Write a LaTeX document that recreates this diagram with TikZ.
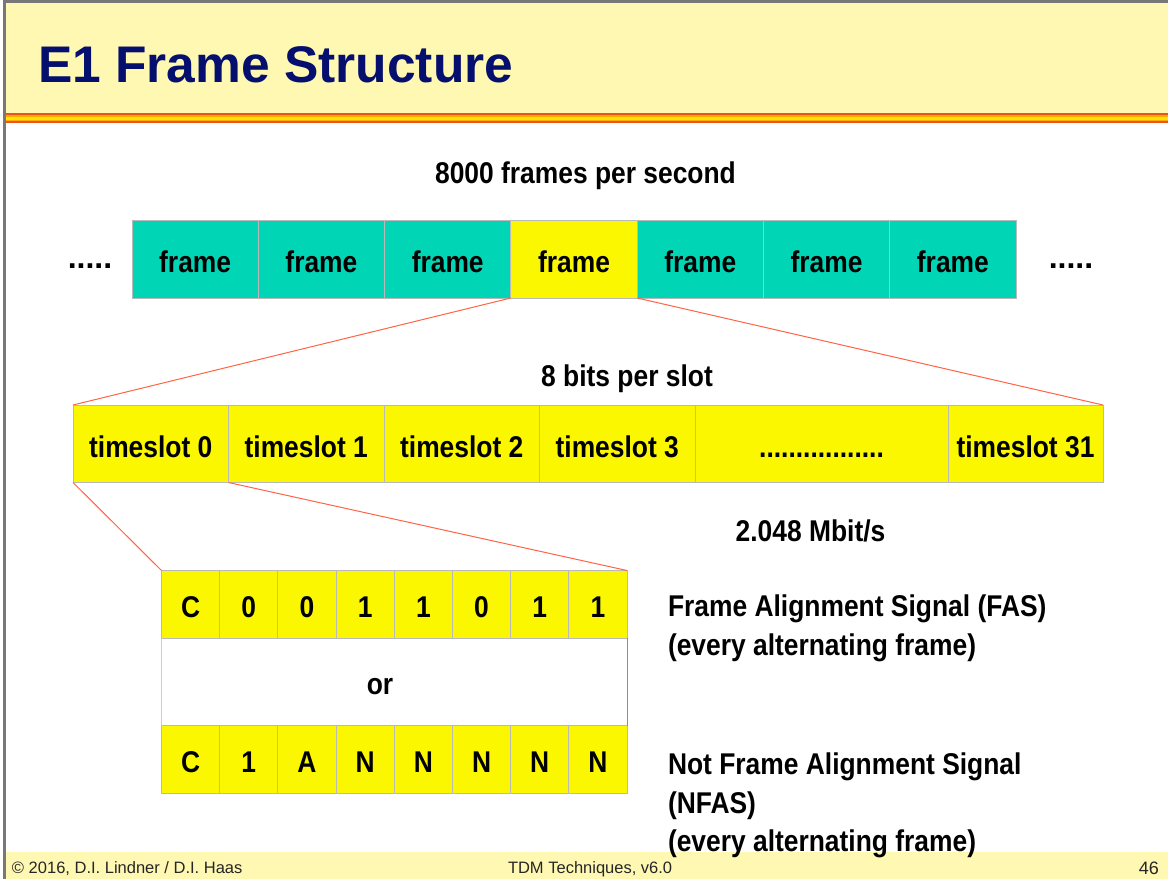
\documentclass[tikz,border=0pt]{standalone}
\usepackage{fontspec}
\setmainfont{Liberation Sans}
\newfontfamily\nar[FakeStretch=0.88]{Liberation Sans}
\definecolor{tealc}{RGB}{0,214,182}
\definecolor{yel}{RGB}{250,247,0}
\definecolor{pale}{RGB}{255,248,178}
\definecolor{navy}{RGB}{5,15,110}
\definecolor{conn}{RGB}{255,100,70}
\definecolor{cellb}{RGB}{185,185,185}
\definecolor{bord}{RGB}{120,120,120}
\definecolor{strA}{RGB}{235,85,25}
\definecolor{strB}{RGB}{255,170,0}
\definecolor{strC}{RGB}{255,228,0}
\tikzset{
  cellbox/.style={draw=cellb, line width=1pt, inner sep=0pt, outer sep=0pt, anchor=north west,
    font=\nar\bfseries\fontsize{30}{36}\selectfont, text height=27pt, text depth=0pt},
  lbl/.style={inner sep=0pt, outer sep=0pt, font=\nar\bfseries\fontsize{30}{36}\selectfont},
  dotlbl/.style={inner sep=0pt, outer sep=0pt, font=\bfseries\fontsize{32}{36}\selectfont},
  foot/.style={inner sep=0pt, outer sep=0pt, font=\fontsize{16.5}{19}\selectfont, text=black!85},
  connline/.style={draw=conn, line width=1pt}
}
\begin{document}
\begin{tikzpicture}[x=1pt,y=-1pt]
\useasboundingbox (0,0) rectangle (1168,879);
\fill[white] (0,0) rectangle (1168,879);
% title bar
\fill[pale] (6,3) rectangle (1168,113);
\fill[strA] (6,113) rectangle (1168,115);
\fill[strB] (6,115) rectangle (1168,116.5);
\fill[strC] (6,116.5) rectangle (1168,119.5);
\fill[strB] (6,119.5) rectangle (1168,121);
\fill[strA] (6,121) rectangle (1168,123);
% footer band
\fill[pale] (6,852) rectangle (1168,879);
% border
\fill[bord] (2.5,0) rectangle (6,879);
\fill[bord] (2.5,0) rectangle (1168,3);
% title
\node[anchor=base west, inner sep=0pt, text=navy, font=\bfseries\fontsize{51.5}{60}\selectfont] (title) at (38,82) {E1 Frame Structure};
% frames
\node[lbl, anchor=base] (fps) at (585.5,183) {8000 frames per second};
\node[dotlbl, anchor=base] (dl) at (90,268) {.....};
\node[dotlbl, anchor=base] (dr) at (1071,268) {.....};
\foreach \i/\c in {1/tealc,2/tealc,3/tealc,4/yel,5/tealc,6/tealc,7/tealc}{
  \node[cellbox, fill=\c, minimum width=126.29pt, minimum height=78pt] (f\i) at ({132+(\i-1)*126.29},220) {frame};
}
% timeslots
\node[lbl, anchor=base] (bps) at (627,386) {8 bits per slot};
\node[cellbox, fill=yel, minimum width=155.5pt, minimum height=77.5pt] (t0) at (73,405) {timeslot 0};
\node[cellbox, fill=yel, minimum width=155.5pt, minimum height=77.5pt] (t1) at (228.5,405) {timeslot 1};
\node[cellbox, fill=yel, minimum width=155.5pt, minimum height=77.5pt] (t2) at (384,405) {timeslot 2};
\node[cellbox, fill=yel, minimum width=155.5pt, minimum height=77.5pt] (t3) at (539.5,405) {timeslot 3};
\node[cellbox, fill=yel, minimum width=253pt, minimum height=77.5pt] (tdots) at (695,405) {.................};
\node[cellbox, fill=yel, minimum width=155pt, minimum height=77.5pt] (t31) at (948,405) {timeslot 31};
\node[lbl, anchor=base] (rate) at (810.5,541) {2.048 Mbit/s};
% bits
\foreach \i/\t in {1/C,2/0,3/0,4/1,5/1,6/0,7/1,8/1}{
  \node[cellbox, fill=yel, minimum width=58.19pt, minimum height=67.5pt] (a\i) at ({161.5+(\i-1)*58.19},570.5) {\t};
}
\foreach \i/\t in {1/C,2/1,3/A,4/N,5/N,6/N,7/N,8/N}{
  \node[cellbox, fill=yel, minimum width=58.19pt, minimum height=67.5pt] (b\i) at ({161.5+(\i-1)*58.19},725.5) {\t};
}
\node[lbl, anchor=base] (or) at (380,694.5) {or};
% connectors
\draw[connline] (f4.south west) -- (t0.north west);
\draw[connline] (f4.south east) -- (t31.north east);
\draw[connline] (t0.south west) -- (a1.north west);
\draw[connline] (t1.south west) -- (a8.north east);
\draw[draw=conn!45, line width=1pt] (a1.south west) -- (b1.north west);
\draw[connline] (a8.south east) -- (b8.north east);
% right texts
\node[lbl, anchor=base west] (fas1) at (668,616.5) {Frame Alignment Signal (FAS)};
\node[lbl, anchor=base west] (fas2) at (668,655.5) {(every alternating frame)};
\node[lbl, anchor=base west] (nf1) at (668,774.5) {Not Frame Alignment Signal};
\node[lbl, anchor=base west] (nf2) at (668,813) {(NFAS)};
\node[lbl, anchor=base west] (nf3) at (668,851.5) {(every alternating frame)};
% footer
\node[foot, anchor=base west] (copy) at (12,873) {© 2016, D.I. Lindner / D.I. Haas};
\node[foot, anchor=base west] (ver) at (508,873) {TDM Techniques, v6.0};
\node[foot, anchor=base east, font=\fontsize{18}{20}\selectfont] (pg) at (1159,874) {46};
\end{tikzpicture}
\end{document}
